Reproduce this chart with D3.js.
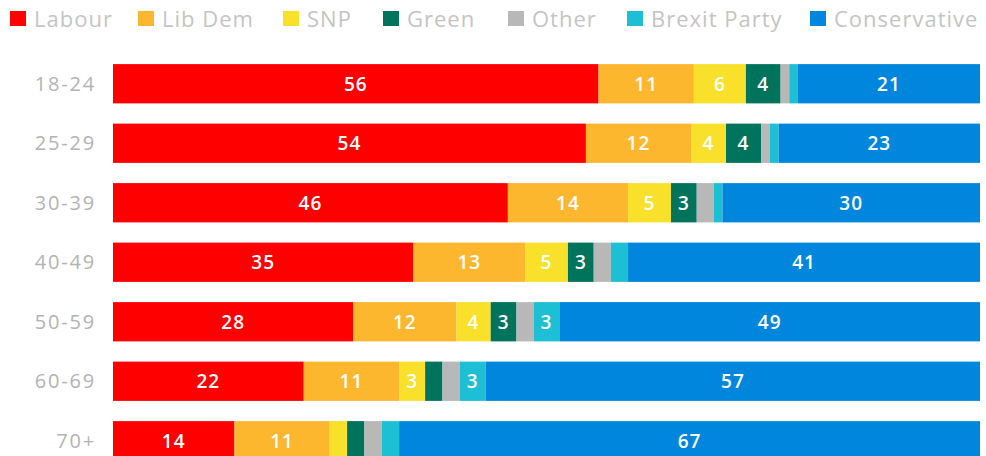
<!DOCTYPE html>
<html>
<head>
<meta charset="utf-8">
<script src="https://cdn.jsdelivr.net/npm/d3@7"></script>
<style>
  body { margin: 0; background: #fff; }
  text { font-family: "Open Sans", sans-serif; }
</style>
</head>
<body>
<svg id="chart" width="986" height="456"></svg>
<script>
// age groups, top to bottom
var ages = ["18-24", "25-29", "30-39", "40-49", "50-59", "60-69", "70+"];

// vote share (%) per party, one value per age group
var labour       = [56, 54, 46, 35, 28, 22, 14];
var libDem       = [11, 12, 14, 13, 12, 11, 11];
var snp          = [6, 4, 5, 5, 4, 3, 2];
var green        = [4, 4, 3, 3, 3, 2, 2];
var other        = [1, 1, 2, 2, 2, 2, 2];
var brexit       = [1, 1, 1, 2, 3, 3, 2];
var conservative = [21, 23, 30, 41, 49, 57, 67];

var parties = ["Labour", "Lib Dem", "SNP", "Green", "Other", "Brexit Party", "Conservative"];
var colors  = ["#ff0000", "#fdb72f", "#f9e02b", "#00735c", "#b8b8b8", "#1dbfd5", "#0086dc"];
var series  = [labour, libDem, snp, green, other, brexit, conservative];

var rows = ages.map(function(a, i) {
  var r = { age: a };
  parties.forEach(function(p, j) { r[p] = series[j][i]; });
  return r;
});

var svg = d3.select("#chart");

var x = d3.scaleLinear().domain([0, 1]).range([113, 980]);
var y = d3.scaleBand().domain(ages).range([54, 470.5]).paddingInner(0.34).paddingOuter(0.17);
var color = d3.scaleOrdinal().domain(parties).range(colors);

var stack = d3.stack().keys(parties).offset(d3.stackOffsetExpand);
var stacked = stack(rows);

var layers = svg.selectAll("g.layer")
    .data(stacked)
    .enter()
    .append("g")
    .attr("class", "layer")
    .attr("fill", function(d) { return color(d.key); });

layers.selectAll("rect")
    .data(function(d) { return d; })
    .enter()
    .append("rect")
    .attr("x", function(d) { return x(d[0]); })
    .attr("y", function(d) { return y(d.data.age); })
    .attr("width", function(d) { return x(d[1]) - x(d[0]); })
    .attr("height", y.bandwidth());

// value labels (only for shares of 3 or more)
layers.each(function(layer) {
  d3.select(this).selectAll("text")
    .data(layer.filter(function(d) { return d.data[layer.key] >= 3; }))
    .enter()
    .append("text")
    .attr("x", function(d) { return (x(d[0]) + x(d[1])) / 2; })
    .attr("y", function(d) { return y(d.data.age) + y.bandwidth() / 2; })
    .attr("dy", "0.36em")
    .attr("text-anchor", "middle")
    .attr("fill", "#fff")
    .attr("font-size", 19)
    .attr("font-weight", 600)
    .attr("letter-spacing", 1)
    .text(function(d) { return d.data[layer.key]; });
});

// age labels
svg.append("g")
    .selectAll("text")
    .data(ages)
    .enter()
    .append("text")
    .attr("x", 96)
    .attr("y", function(d) { return y(d) + y.bandwidth() / 2; })
    .attr("dy", "0.36em")
    .attr("text-anchor", "end")
    .attr("fill", "#b3b3b3")
    .attr("font-size", 20)
    .attr("letter-spacing", 1.8)
    .text(function(d) { return d; });

// legend
var legendX = [10, 138, 283, 383, 508, 627, 810];
var legend = svg.append("g");
parties.forEach(function(p, i) {
  legend.append("rect")
    .attr("x", legendX[i]).attr("y", 11)
    .attr("width", 16).attr("height", 15)
    .attr("fill", color(p));
  legend.append("text")
    .attr("x", legendX[i] + 24).attr("y", 19)
    .attr("dy", "0.36em")
    .attr("fill", "#c4c4c4")
    .attr("font-size", 22)
    .attr("letter-spacing", 1)
    .text(p);
});
</script>
</body>
</html>
